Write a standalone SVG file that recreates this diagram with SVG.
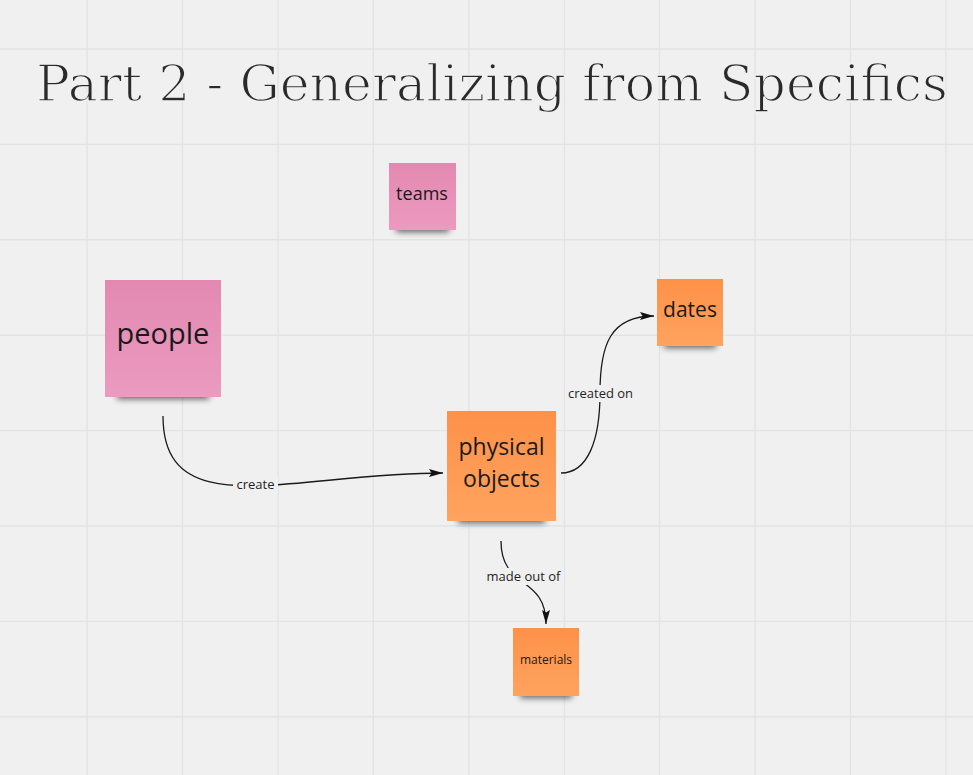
<svg xmlns="http://www.w3.org/2000/svg" width="973" height="775" viewBox="0 0 973 775">
<style>
.grid line{stroke:#e3e3e3;stroke-width:1.4}
.note-text{font-family:"Open Sans","Liberation Sans",sans-serif;fill:#1a1a1a;text-anchor:middle}
.conn{fill:none;stroke:#1a1a1a;stroke-width:1.3}
.lbl{font-family:"Open Sans","Liberation Sans",sans-serif;font-size:13px;fill:#1f1f1f;text-anchor:middle}
.lblbg{fill:#f0f0f0}
.shadow{fill:#000;opacity:0.6;filter:url(#blur)}
.title{font-family:"DejaVu Serif","Liberation Serif",serif;font-size:50px;fill:#2a2a2a;stroke:#f0f0f0;stroke-width:1.5;paint-order:fill}
</style>
<defs>
<linearGradient id="pink" x1="0" y1="0" x2="0" y2="1">
<stop offset="0" stop-color="#e389b1"/>
<stop offset="1" stop-color="#eb9ac0"/>
</linearGradient>
<linearGradient id="orange" x1="0" y1="0" x2="0" y2="1">
<stop offset="0" stop-color="#fe9148"/>
<stop offset="1" stop-color="#ffa35f"/>
</linearGradient>
<filter id="blur" x="-20%" y="-100%" width="140%" height="300%">
<feGaussianBlur stdDeviation="3"/>
</filter>
<marker id="arrow" markerUnits="userSpaceOnUse" markerWidth="15" markerHeight="9" refX="14" refY="4" orient="auto">
<path d="M0,0 L14,4 L0,8 L2.5,4 z" fill="#111"/>
</marker>
</defs>
<rect width="973" height="775" fill="#f0f0f0"/>
<g class="grid">
<line x1="87" y1="0" x2="87" y2="775"/>
<line x1="182.5" y1="0" x2="182.5" y2="775"/>
<line x1="278" y1="0" x2="278" y2="775"/>
<line x1="373.3" y1="0" x2="373.3" y2="775"/>
<line x1="469" y1="0" x2="469" y2="775"/>
<line x1="564.5" y1="0" x2="564.5" y2="775"/>
<line x1="659.5" y1="0" x2="659.5" y2="775"/>
<line x1="755" y1="0" x2="755" y2="775"/>
<line x1="850.5" y1="0" x2="850.5" y2="775"/>
<line x1="946" y1="0" x2="946" y2="775"/>
<line x1="0" y1="49" x2="973" y2="49"/>
<line x1="0" y1="144.4" x2="973" y2="144.4"/>
<line x1="0" y1="239.8" x2="973" y2="239.8"/>
<line x1="0" y1="335.2" x2="973" y2="335.2"/>
<line x1="0" y1="430.6" x2="973" y2="430.6"/>
<line x1="0" y1="526" x2="973" y2="526"/>
<line x1="0" y1="621.4" x2="973" y2="621.4"/>
<line x1="0" y1="716.8" x2="973" y2="716.8"/>
</g>
<text id="title" class="title" x="36" y="101" textLength="912" lengthAdjust="spacingAndGlyphs">Part 2 - Generalizing from Specifics</text>
<g id="connectors">
<g id="c-create">
<path class="conn" d="M163,416 C163,526 293,473 443,473" marker-end="url(#arrow)"/>
<rect class="lblbg" x="233" y="476" width="45" height="17"/>
<text class="lbl" x="255.5" y="489">create</text>
</g>
<g id="c-created-on">
<path class="conn" d="M561,473 C588,473 600,440 600,393 C600,345 610,316 654,316" marker-end="url(#arrow)"/>
<rect class="lblbg" x="565" y="385" width="71" height="17"/>
<text class="lbl" x="600.5" y="397.7">created on</text>
</g>
<g id="c-made-out-of">
<path class="conn" d="M501,541 C501,590 546,575 546,624" marker-end="url(#arrow)"/>
<rect class="lblbg" x="483" y="568" width="81" height="17"/>
<text class="lbl" x="523.5" y="580.7">made out of</text>
</g>
</g>
<g id="teams">
<rect class="shadow" x="396" y="224" width="53" height="8"/>
<rect x="389" y="163" width="67" height="67" fill="url(#pink)"/>
<text class="note-text" x="422" y="200" font-size="18">teams</text>
</g>
<g id="people">
<rect class="shadow" x="117" y="388" width="92" height="11"/>
<rect x="105" y="280" width="116" height="117" fill="url(#pink)"/>
<text class="note-text" x="163" y="344" font-size="29">people</text>
</g>
<g id="physical-objects">
<rect class="shadow" x="458" y="513" width="87" height="10"/>
<rect x="447" y="411" width="109" height="110" fill="url(#orange)"/>
<text class="note-text" x="501.5" y="455" font-size="23">physical</text>
<text class="note-text" x="501.5" y="487" font-size="23">objects</text>
</g>
<g id="dates">
<rect class="shadow" x="664" y="340" width="52" height="8"/>
<rect x="657" y="279" width="66" height="67" fill="url(#orange)"/>
<text class="note-text" x="690" y="317" font-size="21">dates</text>
</g>
<g id="materials">
<rect class="shadow" x="520" y="690" width="52" height="8"/>
<rect x="513" y="628" width="66" height="68" fill="url(#orange)"/>
<text class="note-text" x="546" y="664" font-size="12">materials</text>
</g>
</svg>
